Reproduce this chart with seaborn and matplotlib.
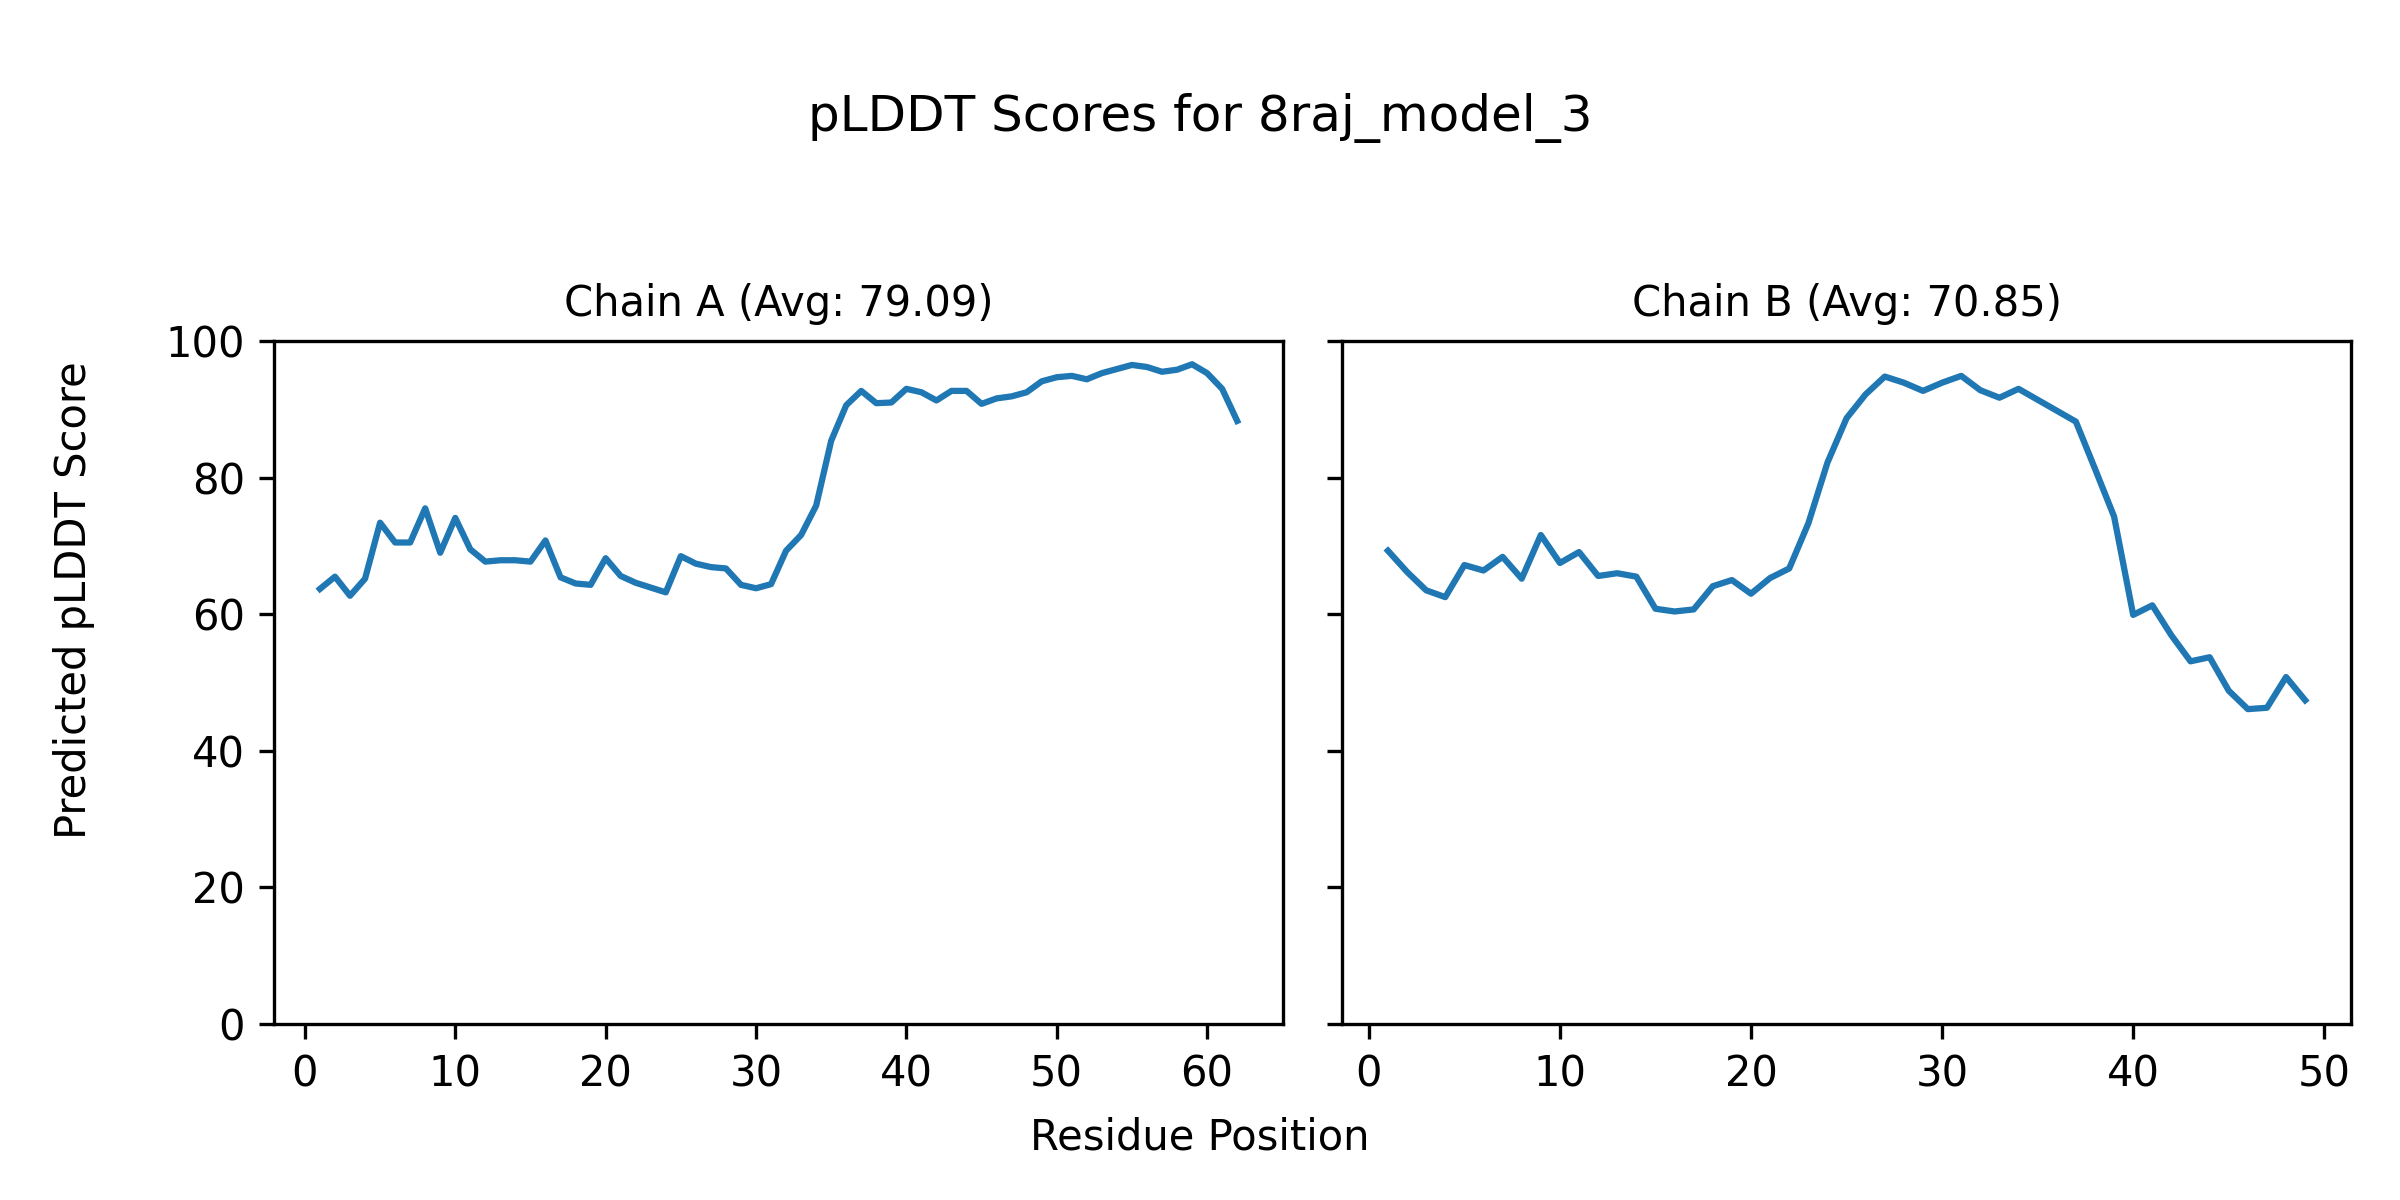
import matplotlib
matplotlib.use("Agg")
import matplotlib.pyplot as plt
import seaborn as sns
import pandas as pd

model_name = "8raj_model_3"

chain_a_label = "Chain A"
chain_a_avg = "79.09"
chain_a_scores = [
    63.7, 65.5, 62.7, 65.2, 73.4, 70.5, 70.5, 75.5, 69.0, 74.1,
    69.5, 67.7, 67.9, 67.9, 67.7, 70.8, 65.4, 64.5, 64.3, 68.2,
    65.6, 64.6, 63.9, 63.2, 68.5, 67.4, 66.9, 66.7, 64.3, 63.8,
    64.4, 69.3, 71.6, 75.9, 85.4, 90.6, 92.7, 90.9, 91.0, 93.0,
    92.5, 91.3, 92.7, 92.7, 90.8, 91.6, 91.9, 92.5, 94.1, 94.7,
    94.9, 94.4, 95.3, 95.9, 96.5, 96.2, 95.5, 95.8, 96.6, 95.3,
    93.0, 88.3,
]

chain_b_label = "Chain B"
chain_b_avg = "70.85"
chain_b_scores = [
    69.3, 66.2, 63.5, 62.5, 67.2, 66.4, 68.4, 65.2, 71.6, 67.5,
    69.1, 65.6, 66.0, 65.5, 60.8, 60.4, 60.7, 64.1, 65.0, 63.0,
    65.3, 66.7, 73.3, 82.2, 88.7, 92.2, 94.8, 93.9, 92.7, 93.9,
    94.9, 92.8, 91.7, 93.0, 91.4, 89.8, 88.2, 81.3, 74.3, 59.9,
    61.3, 56.9, 53.1, 53.7, 48.8, 46.1, 46.3, 50.8, 47.4,
]

chains = [
    (chain_a_label, chain_a_avg, chain_a_scores),
    (chain_b_label, chain_b_avg, chain_b_scores),
]

fig, axes = plt.subplots(1, 2, figsize=(8, 4), dpi=300, sharey=True)
fig.subplots_adjust(left=0.1142, right=0.9796, bottom=0.1467, top=0.7158, wspace=0.0585)

for ax, (label, avg, scores) in zip(axes, chains):
    df = pd.DataFrame({"Residue": list(range(1, len(scores) + 1)), "pLDDT": scores})
    sns.lineplot(data=df, x="Residue", y="pLDDT", ax=ax, color="#1f77b4", linewidth=1.5)
    ax.set_title(f"{label} (Avg: {avg})", fontsize=10)
    ax.set_xlabel("")
    ax.set_ylabel("")
    ax.set_ylim(0, 100)

fig.suptitle(f"pLDDT Scores for {model_name}", fontsize=12, y=0.902, va="center")
fig.text(0.5, 0.0525, "Residue Position", ha="center", va="center", fontsize=10)
fig.text(0.031, 0.5, "Predicted pLDDT Score", ha="center", va="center", rotation=90, fontsize=10)

fig.savefig("out.png", dpi=300)
